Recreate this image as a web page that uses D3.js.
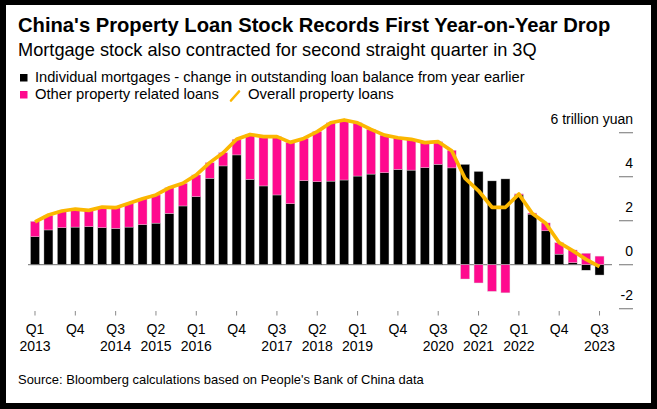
<!DOCTYPE html>
<html><head><meta charset="utf-8">
<script src="https://cdn.jsdelivr.net/npm/d3@7"></script>
<style>
html,body{margin:0;padding:0;background:#000;}
svg{display:block;font-family:"Liberation Sans",Arial,sans-serif;}
</style></head>
<body>
<svg id="chart" width="657" height="409"></svg>
<script>
// ---- data (trillion yuan, YoY change in outstanding balance) ----
const quarters = [
 "2013Q1","2013Q2","2013Q3","2013Q4","2014Q1","2014Q2","2014Q3","2014Q4",
 "2015Q1","2015Q2","2015Q3","2015Q4","2016Q1","2016Q2","2016Q3","2016Q4",
 "2017Q1","2017Q2","2017Q3","2017Q4","2018Q1","2018Q2","2018Q3","2018Q4",
 "2019Q1","2019Q2","2019Q3","2019Q4","2020Q1","2020Q2","2020Q3","2020Q4",
 "2021Q1","2021Q2","2021Q3","2021Q4","2022Q1","2022Q2","2022Q3","2022Q4",
 "2023Q1","2023Q2","2023Q3"];
const mortgages = [
 1.27,1.58,1.68,1.71,1.73,1.68,1.65,1.71,1.82,1.89,2.33,2.67,3.09,3.93,4.49,4.99,
 3.88,3.58,3.17,2.77,3.82,3.77,3.80,3.85,4.03,4.12,4.18,4.33,4.30,4.41,4.56,4.40,
 4.56,4.24,3.81,3.90,3.17,2.30,1.54,0.48,0.09,-0.25,-0.47];
const otherLoans = [
 0.70,0.66,0.76,0.82,0.74,0.94,0.94,1.08,1.18,1.28,1.17,1.03,0.99,0.71,0.60,0.71,
 2.04,2.24,2.65,2.79,1.92,2.28,2.65,2.73,2.42,2.03,1.71,1.44,1.40,1.14,1.03,0.80,
 -0.65,-0.83,-1.21,-1.28,0.05,0.05,0.36,0.52,0.58,0.52,0.39];
const overall = [
 1.95,2.26,2.44,2.53,2.47,2.62,2.59,2.79,3.00,3.17,3.50,3.70,4.08,4.64,5.09,5.70,
 5.92,5.82,5.82,5.56,5.74,6.05,6.45,6.58,6.45,6.15,5.89,5.77,5.70,5.55,5.59,5.18,
 3.92,3.36,2.61,2.61,3.21,2.33,1.88,1.00,0.64,0.24,-0.09];
const xTickIndex = [0,3,6,9,12,15,18,21,24,27,30,33,36,39,42];
const xTickTop = ["Q1","Q4","Q3","Q2","Q1","Q4","Q3","Q2","Q1","Q4","Q3","Q2","Q1","Q4","Q3"];
const xTickBottom = ["2013","","2014","2015","2016","","2017","2018","2019","","2020","2021","2022","","2023"];
const yTicks = [6,4,2,0,-2];
const yTickLabels = ["6 trillion yuan","4","2","0","-2"];

const title = "China's Property Loan Stock Records First Year-on-Year Drop";
const subtitle = "Mortgage stock also contracted for second straight quarter in 3Q";
const legendMortgage = "Individual mortgages - change in outstanding loan balance from year earlier";
const legendOther = "Other property related loans";
const legendOverall = "Overall property loans";
const source = "Source: Bloomberg calculations based on People's Bank of China data";

// ---- styles ----
const C_BLACK = "#000000", C_PINK = "#ff0a8e", C_LINE = "#fbb700", C_AXIS = "#8a8a8a";

const svg = d3.select("#chart");
svg.append("rect").attr("x",6).attr("y",5).attr("width",645).attr("height",398).attr("fill","#fff");

function fitText(sel, width){
  const base = parseFloat(sel.attr("font-size"));
  const w = sel.node().getComputedTextLength();
  sel.attr("font-size", (base*width/w).toFixed(2));
}

fitText(svg.append("text").attr("x",18).attr("y",32).attr("font-size",20).attr("font-weight","bold").attr("fill","#000").text(title), 593);
fitText(svg.append("text").attr("x",18).attr("y",56).attr("font-size",18).attr("fill","#000").text(subtitle), 519);

// legend
svg.append("rect").attr("x",20).attr("y",74).attr("width",7.5).attr("height",7.5).attr("fill",C_BLACK);
fitText(svg.append("text").attr("x",35).attr("y",81.5).attr("font-size",14).attr("fill","#000").text(legendMortgage), 490);
svg.append("rect").attr("x",20).attr("y",91).attr("width",7.5).attr("height",7.5).attr("fill",C_PINK);
fitText(svg.append("text").attr("x",35).attr("y",99).attr("font-size",14).attr("fill","#000").text(legendOther), 184);
svg.append("line").attr("x1",231).attr("y1",100.5).attr("x2",239).attr("y2",91.5).attr("stroke",C_LINE).attr("stroke-width",2.6).attr("stroke-linecap","round");
fitText(svg.append("text").attr("x",248).attr("y",99).attr("font-size",14).attr("fill","#000").text(legendOverall), 146);

// scales
const x = d3.scaleBand().domain(quarters).range([26.06, 608.46]).paddingInner(0.33).paddingOuter(0.33);
const y = d3.scaleLinear().domain([-2, 6]).range([308.7, 132.7]);
const cx = q => x(q) + x.bandwidth()/2;

// zero baseline
svg.append("line").attr("x1",28).attr("x2",612).attr("y1",y(0)).attr("y2",y(0))
  .attr("stroke",C_AXIS).attr("stroke-width",1.3);

// stacked bars
const table = quarters.map((q,i)=>({q, mortgage: mortgages[i], other: otherLoans[i]}));
const series = d3.stack().keys(["mortgage","other"]).offset(d3.stackOffsetDiverging)(table);
const colors = {mortgage: C_BLACK, other: C_PINK};
svg.append("g").selectAll("g").data(series).join("g").attr("fill", d=>colors[d.key])
  .selectAll("rect").data(d=>d).join("rect")
  .attr("x", d=>x(d.data.q)).attr("width", x.bandwidth())
  .attr("y", d=>y(Math.max(d[0],d[1]))).attr("height", d=>Math.abs(y(d[0])-y(d[1])))
  .attr("stroke","#d8d8d8").attr("stroke-width",0.4);

// overall line
const line = d3.line().x((d,i)=>cx(quarters[i])).y(d=>y(d));
svg.append("path").datum(overall).attr("d", line).attr("fill","none")
  .attr("stroke",C_LINE).attr("stroke-width",3.7).attr("stroke-linejoin","round").attr("stroke-linecap","butt");

// y axis (right)
const yAxis = svg.append("g");
yTicks.forEach((v,i)=>{
  yAxis.append("line").attr("x1",619).attr("x2",633).attr("y1",y(v)).attr("y2",y(v))
    .attr("stroke",C_AXIS).attr("stroke-width",1.2);
  yAxis.append("text").attr("x",633).attr("y",y(v)-8.5).attr("text-anchor","end")
    .attr("font-size",14).attr("fill","#000").text(yTickLabels[i]);
});

// x axis
const xAxis = svg.append("g");
xTickIndex.forEach((idx,i)=>{
  const px = cx(quarters[idx]);
  xAxis.append("line").attr("x1",px).attr("x2",px).attr("y1",311).attr("y2",315.5)
    .attr("stroke",C_AXIS).attr("stroke-width",1);
  xAxis.append("text").attr("x",px).attr("y",334).attr("text-anchor","middle")
    .attr("font-size",14).attr("fill","#000").text(xTickTop[i]);
  if (xTickBottom[i]) xAxis.append("text").attr("x",px).attr("y",350.5).attr("text-anchor","middle")
    .attr("font-size",14).attr("fill","#000").text(xTickBottom[i]);
});

// source
fitText(svg.append("text").attr("x",18).attr("y",384).attr("font-size",13).attr("fill","#000").text(source), 406);
</script>
</body></html>
